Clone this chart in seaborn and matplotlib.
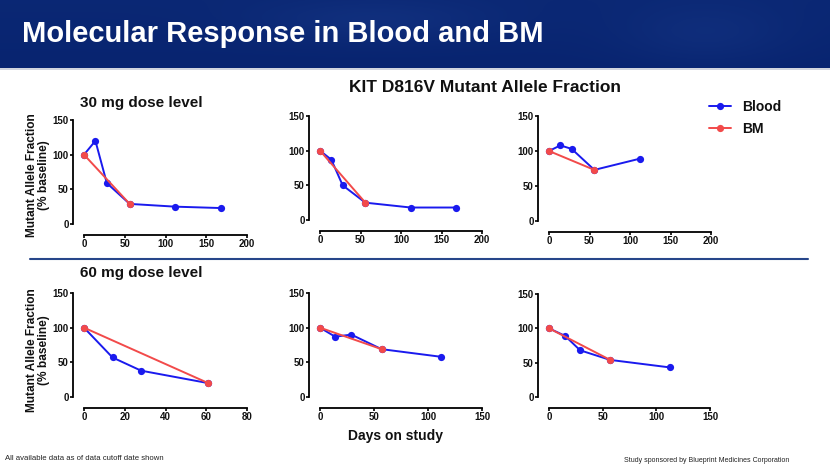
import numpy as np
import pandas as pd
import matplotlib
matplotlib.use("Agg")
import matplotlib.pyplot as plt
from matplotlib.lines import Line2D
import seaborn as sns

sns.set_theme(style="white")
plt.rcParams['font.family'] = ['Liberation Sans', 'DejaVu Sans']

# ---- data ----
series_names = ["Blood", "BM"]

p30a_blood_days = [0, 14, 28, 56, 112, 168]
p30a_blood_vals = [100, 120, 59, 29, 25, 23]
p30a_bm_days = [0, 56]
p30a_bm_vals = [100, 29]

p30b_blood_days = [0, 14, 28, 56, 112, 168]
p30b_blood_vals = [100, 87, 50, 25, 18, 18]
p30b_bm_days = [0, 56]
p30b_bm_vals = [100, 25]

p30c_blood_days = [0, 14, 28, 56, 112]
p30c_blood_vals = [100, 108, 103, 73, 89]
p30c_bm_days = [0, 56]
p30c_bm_vals = [100, 73]

p60a_blood_days = [0, 14, 28, 61]
p60a_blood_vals = [100, 57, 38, 20]
p60a_bm_days = [0, 61]
p60a_bm_vals = [100, 20]

p60b_blood_days = [0, 14, 29, 57, 112]
p60b_blood_vals = [100, 87, 90, 69, 58]
p60b_bm_days = [0, 57]
p60b_bm_vals = [100, 69]

p60c_blood_days = [0, 15, 29, 57, 113]
p60c_blood_vals = [100, 89, 68, 54, 43]
p60c_bm_days = [0, 57]
p60c_bm_vals = [100, 54]

y_ticks = [0, 50, 100, 150]
x_ticks_200 = [0, 50, 100, 150, 200]
x_ticks_150 = [0, 50, 100, 150]
x_ticks_80 = [0, 20, 40, 60, 80]

palette = {"Blood": "#1a1aee", "BM": "#f24a4a"}

W, H = 830, 467
fig = plt.figure(figsize=(W / 100, H / 100), dpi=100)
fig.patch.set_facecolor("white")


def fx(px):
    return px / W


def fy(py):
    return 1 - py / H


# ---- header band ----
hdr = fig.add_axes([0, fy(68), 1, 68 / H])
gx = np.linspace(0, 1, 400)
gy = np.linspace(0, 1, 60)
GX, GY = np.meshgrid(gx, gy)
base = np.array([0x08, 0x24, 0x70]) / 255.0
light = np.array([0x1a, 0x3c, 0x8c]) / 255.0
t = 0.35 * np.exp(-((GX - 0.45) ** 2) / 0.02 - ((GY - 0.3) ** 2) / 0.1) \
    + 0.3 * np.exp(-((GX - 0.85) ** 2) / 0.01 - ((GY - 0.5) ** 2) / 0.2) \
    + 0.15 * (1 - GY)
t = np.clip(t, 0, 1)
img = base[None, None, :] * (1 - t[..., None]) + light[None, None, :] * t[..., None]
hdr.imshow(img, aspect="auto", extent=[0, 1, 0, 1])
hdr.set_axis_off()
fig.text(fx(22), fy(34), "Molecular Response in Blood and BM", color="white",
         fontsize=21, fontweight="bold", va="center", ha="left")
fig.add_artist(Line2D([0, 1], [fy(68.5), fy(68.5)], color="#c8cdd8", lw=1.2,
                      transform=fig.transFigure))

# ---- separator line ----
fig.add_artist(Line2D([fx(30), fx(808)], [fy(259), fy(259)], color="#27468a",
                      lw=1.5, transform=fig.transFigure))


def panel(box, bd, bv, md, mv, xmax, xticks):
    left, right, top, bottom = box
    ax = fig.add_axes([fx(left), fy(bottom), fx(right - left), (bottom - top) / H])
    df = pd.DataFrame({
        "day": list(bd) + list(md),
        "maf": list(bv) + list(mv),
        "sample": ["Blood"] * len(bd) + ["BM"] * len(md),
    })
    sns.lineplot(data=df, x="day", y="maf", hue="sample", hue_order=series_names,
                 palette=palette, marker="o", markersize=5.2, markeredgewidth=0,
                 linewidth=1.4, legend=False, ax=ax, clip_on=False,
                 estimator=None, sort=False)
    ax.set_xlim(0, xmax)
    ax.set_ylim(0, 150)
    ax.set_xticks(xticks)
    ax.set_yticks(y_ticks)
    ax.set_xlabel("")
    ax.set_ylabel("")
    for s in ["top", "right"]:
        ax.spines[s].set_visible(False)
    for s in ["left", "bottom"]:
        ax.spines[s].set_color("black")
        ax.spines[s].set_linewidth(1.3)
    ax.spines["left"].set_position(("outward", 8))
    ax.spines["bottom"].set_position(("outward", 8))
    ax.tick_params(axis="both", direction="out", length=2.3, width=1.2,
                   labelsize=7, pad=0.8, color="black", left=True, bottom=True)
    for lab in ax.get_xticklabels() + ax.get_yticklabels():
        lab.set_fontweight("bold")
        lab.set_color("#111111")
    ax.set_facecolor("none")
    ax.grid(False)
    return ax


panel((84, 247, 120, 224), p30a_blood_days, p30a_blood_vals, p30a_bm_days, p30a_bm_vals, 200, x_ticks_200)
panel((320, 482, 116, 220), p30b_blood_days, p30b_blood_vals, p30b_bm_days, p30b_bm_vals, 200, x_ticks_200)
panel((549, 711, 116, 221), p30c_blood_days, p30c_blood_vals, p30c_bm_days, p30c_bm_vals, 200, x_ticks_200)
panel((84, 247, 293, 397), p60a_blood_days, p60a_blood_vals, p60a_bm_days, p60a_bm_vals, 80, x_ticks_80)
panel((320, 482, 293, 397), p60b_blood_days, p60b_blood_vals, p60b_bm_days, p60b_bm_vals, 150, x_ticks_150)
panel((549, 710, 294, 397), p60c_blood_days, p60c_blood_vals, p60c_bm_days, p60c_bm_vals, 150, x_ticks_150)

# ---- texts ----
fig.text(fx(485), fy(88), "KIT D816V Mutant Allele Fraction", fontsize=12.5,
         fontweight="bold", ha="center", va="center", color="#111111")
fig.text(fx(80), fy(103), "30 mg dose level", fontsize=11, fontweight="bold",
         ha="left", va="center", color="#111111")
fig.text(fx(80), fy(273), "60 mg dose level", fontsize=11, fontweight="bold",
         ha="left", va="center", color="#111111")
for yc in (175, 350):
    fig.text(fx(38), fy(yc), "Mutant Allele Fraction\n(% baseline)", fontsize=8.6,
             fontweight="bold", rotation=90, ha="center", va="center",
             multialignment="center", color="#111111", linespacing=1.05)
fig.text(fx(395), fy(436), "Days on study", fontsize=10, fontweight="bold",
         ha="center", va="center", color="#111111")
fig.text(fx(5), fy(459), "All available data as of data cutoff date shown",
         fontsize=5.6, ha="left", va="center", color="#222222")
fig.text(fx(624), fy(460), "Study sponsored by Blueprint Medicines Corporation",
         fontsize=5.0, ha="left", va="center", color="#222222")

# ---- legend ----
handles = [Line2D([0], [0], color=palette[n], marker="o", markersize=5.2,
                  markeredgewidth=0, lw=1.4) for n in series_names]
leg = fig.legend(handles, series_names, loc="center left",
                 bbox_to_anchor=(fx(696), fy(118)), frameon=False,
                 handlelength=1.6, handletextpad=0.8, labelspacing=0.55,
                 prop={"weight": "bold", "size": 10})
for txt in leg.get_texts():
    txt.set_color("#111111")

fig.savefig("out.png", dpi=100, facecolor="white")
